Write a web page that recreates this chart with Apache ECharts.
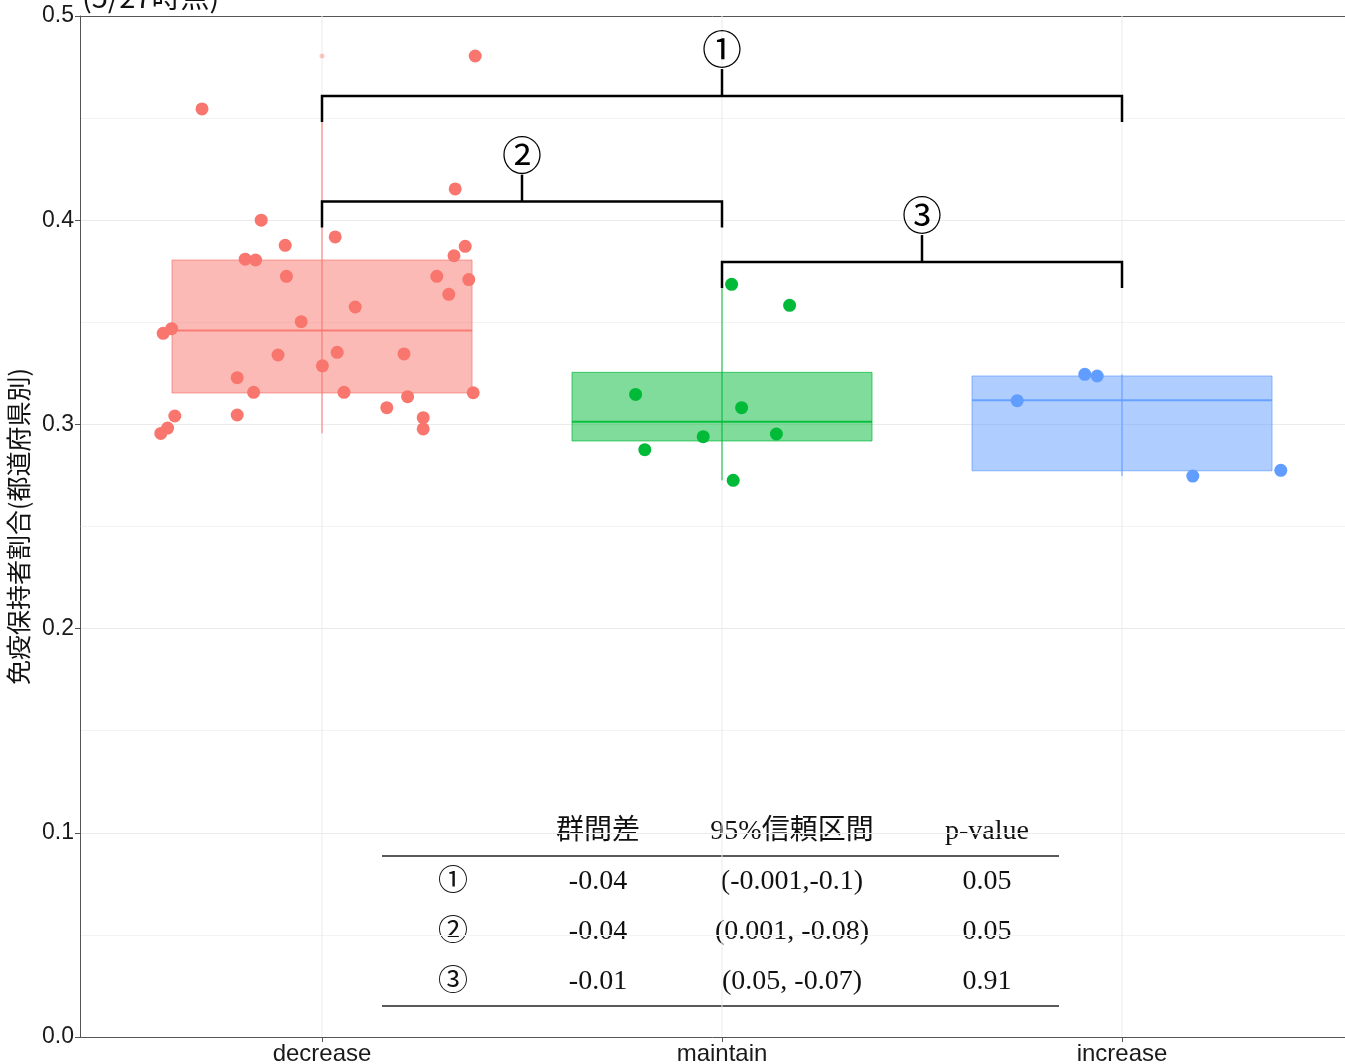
<!DOCTYPE html>
<html><head><meta charset="utf-8">
<script src="https://cdn.jsdelivr.net/npm/echarts@6/dist/echarts.min.js"></script>
<style>html,body{margin:0;padding:0;background:#fff;}#c{width:1345px;height:1064px;}</style>
</head><body><div id="c"></div>
<script>
// ---------- data ----------
const categories = ['decrease', 'maintain', 'increase'];
const groupColors = ['#F8766D', '#00BA38', '#619CFF'];

// jittered points (x = category position 1..3 plus jitter, y = value)
const decreaseX = [0.848, 1.033, 0.908, 1.358, 1.330, 0.808, 0.834, 0.911, 1.287, 1.367, 1.317, 1.083, 0.948, 0.603, 0.624, 0.890, 1.038, 1.205, 1.001, 0.788, 0.829, 1.055, 1.378, 1.214, 1.162, 0.632, 0.788, 1.253, 1.253, 0.614, 0.597, 0.700, 1.333, 1.383];
const decreaseY = [0.4000, 0.3918, 0.3877, 0.3872, 0.3826, 0.3809, 0.3805, 0.3725, 0.3725, 0.3709, 0.3637, 0.3575, 0.3503, 0.3446, 0.3469, 0.3340, 0.3353, 0.3345, 0.3287, 0.3229, 0.3157, 0.3157, 0.3155, 0.3136, 0.3082, 0.3041, 0.3046, 0.3033, 0.2978, 0.2982, 0.2956, 0.4545, 0.4153, 0.4804];
const maintainX = [2.024, 2.169, 1.784, 2.049, 1.953, 2.136, 1.807, 2.028];
const maintainY = [0.3686, 0.3583, 0.3147, 0.3082, 0.2940, 0.2953, 0.2876, 0.2726];
const increaseX = [2.907, 2.938, 2.738, 3.177, 3.397];
const increaseY = [0.3245, 0.3237, 0.3116, 0.2747, 0.2775];

// box statistics per category
const boxMin    = [0.2956, 0.2726, 0.2747];
const boxQ1     = [0.3154, 0.2919, 0.2773];
const boxMedian = [0.3460, 0.3013, 0.3118];
const boxQ3     = [0.3805, 0.3255, 0.3237];
const boxMax    = [0.4545, 0.3686, 0.3245];
const outlierCat = [1];
const outlierY   = [0.4804];

// comparison brackets
const bracketFrom  = [1, 1, 2];
const bracketTo    = [3, 2, 3];
const bracketY     = [0.4608, 0.4091, 0.3795];
const bracketLabel = ['①', '②', '③'];

// table
const tableHeader = ['', '群間差', '95%信頼区間', 'p-value'];
const tableRows = [
  ['①', '-0.04', '(-0.001,-0.1)', '0.05'],
  ['②', '-0.04', '(0.001, -0.08)', '0.05'],
  ['③', '-0.01', '(0.05, -0.07)', '0.91']
];

const yAxisTitle = '免疫保持者割合(都道府県別)';
const chartTitle = '(5/27時点)';

// ---------- chart ----------
const chart = echarts.init(document.getElementById('c'), null, {renderer: 'canvas'});

function toPairs(xs, ys) { return xs.map((x, i) => [x, ys[i]]); }
const pointSets = [toPairs(decreaseX, decreaseY), toPairs(maintainX, maintainY), toPairs(increaseX, increaseY)];

function hexA(hex, a) {
  const r = parseInt(hex.slice(1, 3), 16), g = parseInt(hex.slice(3, 5), 16), b = parseInt(hex.slice(5, 7), 16);
  return `rgba(${r},${g},${b},${a})`;
}

const boxData = categories.map((c, i) => [i + 1, boxMin[i], boxQ1[i], boxMedian[i], boxQ3[i], boxMax[i]]);
const bracketData = bracketFrom.map((f, i) => [f, bracketTo[i], bracketY[i], i]);

const colX = [453, 598, 792, 987];
const headerY = 832;
const rowY = [882, 932, 982];
const tableFont = '"Liberation Serif", "Noto Sans CJK JP", serif';
const graphics = [];
tableHeader.forEach((t, j) => {
  if (!t) return;
  graphics.push({type: 'text', x: colX[j], y: headerY, style: {text: t, font: `28px ${tableFont}`, fill: '#111', textAlign: 'center', textVerticalAlign: 'middle'}});
});
tableRows.forEach((row, i) => {
  row.forEach((t, j) => {
    const fs = j === 0 ? 30 : 28;
    graphics.push({type: 'text', x: colX[j], y: rowY[i], style: {text: t, font: `${fs}px ${tableFont}`, fill: '#111', textAlign: 'center', textVerticalAlign: 'middle'}});
  });
});
graphics.push({type: 'line', shape: {x1: 382, y1: 856, x2: 1059, y2: 856}, style: {stroke: '#222', lineWidth: 1.5}});
graphics.push({type: 'line', shape: {x1: 382, y1: 1006, x2: 1059, y2: 1006}, style: {stroke: '#222', lineWidth: 1.5}});
graphics.push({type: 'text', x: 82, y: 11, style: {text: chartTitle, font: '29px "Noto Sans CJK JP", sans-serif', fill: '#111', textAlign: 'left', textVerticalAlign: 'bottom'}});

const labelFont = '"Liberation Sans", Arial, sans-serif';
const option = {
  animation: false,
  backgroundColor: '#fff',
  grid: {left: 80, right: 0, top: 16, bottom: 27, show: false, outerBoundsMode: 'none', containLabel: false},
  xAxis: [{
    type: 'value', min: 0.395, max: 3.5575,
    axisLine: {show: true, onZero: false, lineStyle: {color: '#555', width: 1}},
    axisTick: {show: true, customValues: [1, 2, 3], length: 5, lineStyle: {color: '#555'}},
    axisLabel: {show: true, customValues: [1, 2, 3], formatter: v => categories[Math.round(v) - 1] || '', fontSize: 24, color: '#1a1a1a', fontFamily: labelFont, margin: 5},
    splitLine: {show: false}
  }, {
    type: 'value', min: 0.395, max: 3.5575, position: 'top',
    axisLine: {show: true, onZero: false, lineStyle: {color: '#555', width: 1}},
    axisTick: {show: false}, axisLabel: {show: false}, splitLine: {show: false}
  }],
  yAxis: {
    type: 'value', min: 0, max: 0.5, interval: 0.1,
    name: yAxisTitle, nameLocation: 'middle', nameRotate: 90, nameGap: 43,
    nameTextStyle: {fontSize: 25, color: '#111', fontFamily: '"Noto Sans CJK JP", sans-serif'},
    axisLine: {show: true, lineStyle: {color: '#555', width: 1}},
    axisTick: {show: true, length: 5, lineStyle: {color: '#555'}},
    axisLabel: {formatter: v => v.toFixed(1), fontSize: 23, color: '#1a1a1a', fontFamily: labelFont, margin: 6},
    splitLine: {show: true, lineStyle: {color: '#EBEBEB', width: 1}},
    minorTick: {show: false, splitNumber: 2},
    minorSplitLine: {show: true, lineStyle: {color: '#F3F3F3', width: 1}}
  },
  graphic: graphics,
  series: [
    {
      type: 'custom', name: 'vgrid', z: 1, silent: true,
      data: categories.map((c, i) => [i + 1]),
      renderItem: (params, api) => {
        const x = api.value(0);
        const p1 = api.coord([x, 0]), p2 = api.coord([x, 0.5]);
        return {type: 'line', shape: {x1: p1[0], y1: p1[1], x2: p2[0], y2: p2[1]}, style: {stroke: '#EBEBEB', lineWidth: 1}};
      }
    },
    {
      type: 'custom', name: 'box', z: 2, silent: true,
      data: boxData,
      renderItem: (params, api) => {
        const x = api.value(0), i = params.dataIndex;
        const col = groupColors[i];
        const half = api.size([0.75, 0])[0] / 2;
        const pMin = api.coord([x, api.value(1)]), pQ1 = api.coord([x, api.value(2)]);
        const pMed = api.coord([x, api.value(3)]), pQ3 = api.coord([x, api.value(4)]), pMax = api.coord([x, api.value(5)]);
        return {type: 'group', children: [
          {type: 'line', shape: {x1: pMin[0], y1: pMin[1], x2: pMax[0], y2: pMax[1]}, style: {stroke: col, lineWidth: 1}},
          {type: 'rect', shape: {x: pQ3[0] - half, y: pQ3[1], width: 2 * half, height: pQ1[1] - pQ3[1]}, style: {fill: hexA(col, 0.5), stroke: hexA(col, 0.7), lineWidth: 1}},
          {type: 'line', shape: {x1: pMed[0] - half, y1: pMed[1], x2: pMed[0] + half, y2: pMed[1]}, style: {stroke: hexA(col, 0.9), lineWidth: 2}}
        ]};
      }
    },
    {
      type: 'scatter', name: 'outlier', z: 3, symbolSize: 5, silent: true,
      itemStyle: {color: hexA(groupColors[0], 0.5)},
      data: outlierCat.map((c, i) => [c, outlierY[i]])
    },
    ...pointSets.map((pts, i) => ({
      type: 'scatter', name: categories[i], z: 4, symbolSize: 13, silent: true,
      itemStyle: {color: groupColors[i], opacity: 1},
      data: pts
    })),
    {
      type: 'custom', name: 'brackets', z: 5, silent: true,
      data: bracketData,
      renderItem: (params, api) => {
        const f = api.value(0), t = api.value(1), y = api.value(2), k = api.value(3);
        const a = api.coord([f, y]), b = api.coord([t, y]);
        const leg = 26, stem = 27;
        const mx = (a[0] + b[0]) / 2;
        return {type: 'group', children: [
          {type: 'polyline', shape: {points: [[a[0], a[1] + leg], [a[0], a[1]], [b[0], b[1]], [b[0], b[1] + leg]]}, style: {stroke: '#000', lineWidth: 2.5, fill: null}},
          {type: 'line', shape: {x1: mx, y1: a[1], x2: mx, y2: a[1] - stem}, style: {stroke: '#000', lineWidth: 2.5}},
          {type: 'text', x: mx, y: a[1] - stem - 20, style: {text: bracketLabel[k], font: '40px "Noto Sans CJK JP", sans-serif', fill: '#000', textAlign: 'center', textVerticalAlign: 'middle'}}
        ]};
      }
    }
  ]
};
chart.setOption(option);
</script></body></html>
